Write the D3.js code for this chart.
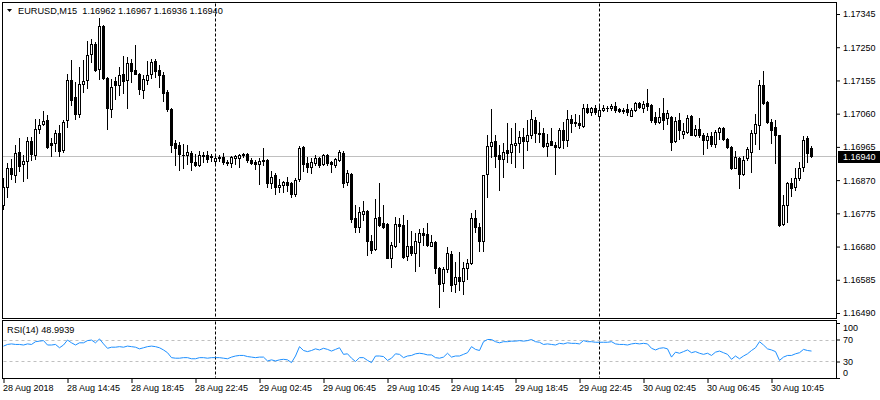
<!DOCTYPE html>
<html><head><meta charset="utf-8">
<script src="https://cdn.jsdelivr.net/npm/d3@7"></script>
<style>
html,body{margin:0;padding:0;background:#fff;}
svg{display:block;font-family:"Liberation Sans",Arial,sans-serif;}
text{white-space:pre;}
</style></head><body>
<svg id="chart" width="880" height="400"></svg>
<script>
// ---------- data ----------
const symbolTitle = "EURUSD,M15";
const lastQuote = ["1.16962", "1.16967", "1.16936", "1.16940"];
const rsiTitle = "RSI(14) 48.9939";
const currentPrice = 1.16940;

const openP = [1.16799,1.16850,1.16904,1.16885,1.16950,1.16916,1.16924,1.16982,1.16942,1.17016,
1.17031,1.17042,1.16976,1.16976,1.17004,1.16956,1.17042,1.17156,1.17108,1.17059,
1.17145,1.17156,1.17231,1.17260,1.17187,1.17311,1.17162,1.17073,1.17153,1.17142,
1.17174,1.17156,1.17204,1.17185,1.17174,1.17128,1.17156,1.17174,1.17210,1.17185,
1.17171,1.17122,1.17073,1.16976,1.16971,1.16942,1.16942,1.16947,1.16921,1.16913,
1.16939,1.16942,1.16939,1.16924,1.16935,1.16936,1.16921,1.16919,1.16933,1.16933,
1.16941,1.16945,1.16927,1.16921,1.16916,1.16927,1.16927,1.16862,1.16885,1.16850,
1.16856,1.16865,1.16862,1.16830,1.16873,1.16965,1.16919,1.16907,1.16919,1.16933,
1.16916,1.16942,1.16921,1.16913,1.16927,1.16947,1.16865,1.16887,1.16762,1.16736,
1.16773,1.16782,1.16696,1.16673,1.16764,1.16747,1.16744,1.16647,1.16681,1.16744,
1.16741,1.16653,1.16681,1.16661,1.16693,1.16719,1.16716,1.16681,1.16693,1.16618,
1.16576,1.16615,1.16659,1.16573,1.16593,1.16581,1.16618,1.16633,1.16761,1.16736,
1.16696,1.16887,1.16967,1.16982,1.16942,1.16930,1.16956,1.16950,1.16970,1.16976,
1.16993,1.16982,1.16999,1.17042,1.17004,1.17004,1.16967,1.16982,1.16971,1.16965,
1.17013,1.16985,1.17045,1.17036,1.17033,1.17025,1.17076,1.17065,1.17076,1.17053,
1.17070,1.17076,1.17076,1.17082,1.17073,1.17070,1.17073,1.17053,1.17070,1.17090,
1.17076,1.17090,1.17085,1.17050,1.17036,1.17062,1.17047,1.17050,1.16982,1.17042,
1.17002,1.17007,1.17053,1.16999,1.17016,1.16999,1.16985,1.16996,1.16973,1.17007,
1.17019,1.16988,1.16965,1.16904,1.16933,1.16887,1.16933,1.16950,1.17004,1.17027,
1.17142,1.17093,1.17036,1.17022,1.16999,1.16744,1.16799,1.16862,1.16850,1.16876,
1.16907,1.16990,1.16962];

const highP = [1.16876,1.16918,1.16930,1.16971,1.16990,1.16942,1.16993,1.16993,1.17044,1.17044,
1.17067,1.17056,1.16990,1.17013,1.17028,1.17042,1.17174,1.17213,1.17150,1.17193,
1.17213,1.17268,1.17273,1.17265,1.17334,1.17314,1.17165,1.17159,1.17165,1.17193,
1.17225,1.17222,1.17216,1.17257,1.17177,1.17171,1.17210,1.17216,1.17216,1.17199,
1.17179,1.17128,1.17076,1.16985,1.16979,1.16973,1.16971,1.16953,1.16945,1.16953,
1.16950,1.16953,1.16945,1.16945,1.16942,1.16947,1.16927,1.16939,1.16942,1.16945,
1.16947,1.16947,1.16933,1.16927,1.16933,1.16962,1.16929,1.16896,1.16890,1.16873,
1.16867,1.16879,1.16865,1.16876,1.16967,1.16967,1.16936,1.16933,1.16942,1.16936,
1.16944,1.16945,1.16924,1.16933,1.16956,1.16953,1.16899,1.16890,1.16799,1.16793,
1.16810,1.16784,1.16713,1.16816,1.16862,1.16799,1.16746,1.16693,1.16764,1.16761,
1.16770,1.16756,1.16724,1.16719,1.16730,1.16733,1.16747,1.16713,1.16696,1.16621,
1.16621,1.16679,1.16667,1.16636,1.16664,1.16636,1.16644,1.16776,1.16784,1.16747,
1.16886,1.16999,1.17073,1.16999,1.16970,1.16976,1.17033,1.17019,1.17033,1.17010,
1.17019,1.17042,1.17070,1.17050,1.17036,1.17019,1.17002,1.17019,1.16979,1.17019,
1.17036,1.17070,1.17056,1.17059,1.17056,1.17088,1.17088,1.17079,1.17085,1.17085,
1.17085,1.17082,1.17088,1.17093,1.17076,1.17076,1.17088,1.17076,1.17093,1.17093,
1.17096,1.17130,1.17088,1.17065,1.17076,1.17105,1.17070,1.17053,1.17050,1.17062,
1.17033,1.17056,1.17056,1.17027,1.17047,1.17005,1.17005,1.17007,1.17013,1.17022,
1.17022,1.16990,1.16967,1.16953,1.16935,1.16939,1.16965,1.17013,1.17059,1.17156,
1.17182,1.17096,1.17045,1.17042,1.17000,1.16827,1.16865,1.16876,1.16904,1.16922,
1.16996,1.16996,1.16967];

const lowP = [1.16787,1.16822,1.16873,1.16864,1.16896,1.16867,1.16876,1.16927,1.16930,1.17004,
1.17028,1.16962,1.16939,1.16953,1.16939,1.16950,1.17022,1.17085,1.17044,1.17050,
1.17122,1.17133,1.17207,1.17182,1.17159,1.17159,1.17016,1.17050,1.17102,1.17114,
1.17119,1.17076,1.17150,1.17174,1.17117,1.17105,1.17145,1.17162,1.17165,1.17136,
1.17096,1.17067,1.16950,1.16913,1.16899,1.16904,1.16916,1.16899,1.16910,1.16910,
1.16921,1.16921,1.16924,1.16919,1.16924,1.16916,1.16913,1.16907,1.16916,1.16907,
1.16936,1.16921,1.16916,1.16902,1.16859,1.16913,1.16850,1.16847,1.16830,1.16836,
1.16836,1.16839,1.16822,1.16825,1.16867,1.16896,1.16893,1.16890,1.16913,1.16907,
1.16913,1.16913,1.16893,1.16907,1.16924,1.16850,1.16856,1.16750,1.16721,1.16721,
1.16756,1.16656,1.16661,1.16670,1.16739,1.16733,1.16647,1.16621,1.16678,1.16693,
1.16647,1.16641,1.16656,1.16610,1.16624,1.16684,1.16681,1.16681,1.16604,1.16507,
1.16553,1.16607,1.16553,1.16550,1.16556,1.16544,1.16587,1.16630,1.16721,1.16667,
1.16667,1.16822,1.16936,1.16907,1.16842,1.16879,1.16921,1.16919,1.16907,1.16950,
1.16904,1.16956,1.16990,1.16979,1.16979,1.16964,1.16939,1.16971,1.16887,1.16962,
1.16962,1.16967,1.17007,1.17025,1.17019,1.17022,1.17062,1.17056,1.17059,1.17047,
1.17067,1.17067,1.17070,1.17065,1.17065,1.17062,1.17056,1.17053,1.17067,1.17076,
1.17065,1.17070,1.17036,1.17030,1.17033,1.17016,1.17030,1.16956,1.16979,1.16988,
1.16990,1.17004,1.16999,1.16996,1.16993,1.16944,1.16962,1.16967,1.16965,1.16988,
1.16985,1.16962,1.16902,1.16904,1.16847,1.16884,1.16927,1.16893,1.16973,1.16959,
1.17088,1.17033,1.16976,1.16919,1.16739,1.16741,1.16750,1.16825,1.16842,1.16870,
1.16896,1.16921,1.16936];

const closeP = [1.16850,1.16904,1.16888,1.16947,1.16910,1.16924,1.16982,1.16945,1.17016,1.17028,
1.17039,1.16965,1.16971,1.17004,1.16953,1.17036,1.17156,1.17099,1.17059,1.17145,
1.17153,1.17228,1.17260,1.17185,1.17311,1.17162,1.17076,1.17136,1.17142,1.17171,
1.17153,1.17204,1.17182,1.17174,1.17130,1.17159,1.17171,1.17207,1.17182,1.17171,
1.17119,1.17073,1.16971,1.16962,1.16945,1.16941,1.16950,1.16921,1.16913,1.16942,
1.16942,1.16930,1.16936,1.16933,1.16933,1.16921,1.16919,1.16936,1.16939,1.16942,
1.16946,1.16927,1.16919,1.16916,1.16924,1.16924,1.16862,1.16879,1.16850,1.16856,
1.16865,1.16856,1.16830,1.16870,1.16962,1.16916,1.16907,1.16921,1.16933,1.16913,
1.16942,1.16919,1.16916,1.16930,1.16950,1.16862,1.16890,1.16759,1.16736,1.16779,
1.16782,1.16696,1.16670,1.16762,1.16741,1.16736,1.16647,1.16684,1.16744,1.16739,
1.16650,1.16681,1.16661,1.16696,1.16719,1.16713,1.16684,1.16693,1.16618,1.16573,
1.16615,1.16661,1.16570,1.16593,1.16581,1.16618,1.16633,1.16761,1.16736,1.16696,
1.16884,1.16967,1.16979,1.16939,1.16930,1.16950,1.16947,1.16973,1.16976,1.16993,
1.16982,1.16999,1.17045,1.17004,1.17002,1.16967,1.16976,1.16971,1.16965,1.17013,
1.16985,1.17045,1.17033,1.17033,1.17027,1.17076,1.17065,1.17076,1.17065,1.17070,
1.17076,1.17075,1.17082,1.17070,1.17067,1.17067,1.17065,1.17070,1.17090,1.17079,
1.17088,1.17082,1.17042,1.17036,1.17050,1.17042,1.17062,1.16979,1.17039,1.17013,
1.17010,1.17047,1.16999,1.17016,1.16999,1.16985,1.16996,1.16973,1.17007,1.17019,
1.16988,1.16965,1.16904,1.16936,1.16887,1.16927,1.16959,1.17004,1.17030,1.17142,
1.17090,1.17036,1.17013,1.16999,1.16741,1.16799,1.16862,1.16847,1.16876,1.16904,
1.16985,1.16947,1.16940];

const rsiValues = [58,61,62,61,61,60,62,61,66,67,68,60,60,61,55,60,69,64,60,64,
64,68,69,64,71,62,54,56,56,57,56,58,57,56,53,55,57,58,57,55,
51,46,37,36,36,37,37,35,35,37,37,36,37,37,37,36,35,38,40,41,
41,39,38,37,38,38,31,33,31,33,34,33,28,40,57,50,48,50,53,51,
54,52,49,52,55,43,44,36,30,37,37,32,28,40,40,39,32,36,44,43,
37,40,41,44,45,44,42,42,37,36,38,45,38,40,40,43,46,57,52,50,
66,70,70,66,64,66,66,67,67,68,67,68,70,66,65,61,62,61,60,63,
62,64,63,63,62,68,66,66,65,65,65,65,66,62,61,61,60,62,63,62,
63,62,54,51,54,55,53,38,47,45,48,51,46,48,45,43,45,41,47,49,
46,43,34,40,35,40,44,50,55,66,60,53,51,48,32,38,41,41,44,46,
52,50,48.99];

const priceTicks = [1.16490,1.16585,1.16680,1.16775,1.16870,1.16965,1.17060,1.17155,1.17250,1.17345];
const rsiTicks = [0,30,70,100];
const rsiLevels = [30,70];
const timeLabels = ["28 Aug 2018","28 Aug 14:45","28 Aug 18:45","28 Aug 22:45","29 Aug 02:45",
  "29 Aug 06:45","29 Aug 10:45","29 Aug 14:45","29 Aug 18:45","29 Aug 22:45",
  "30 Aug 02:45","30 Aug 06:45","30 Aug 10:45"];
const timeLabelBars = [0,16,32,48,64,80,96,112,128,144,160,176,192];
const separatorBars = [53,149];

// ---------- layout ----------
const svg = d3.select("#chart");
const L = 2.5, R = 836.5, mainTop = 2.5, mainBot = 318.5, rsiTop = 320.5, rsiBot = 378.5;

const bars = d3.range(openP.length);
const x = d3.scaleLinear().domain([0, 202]).range([3, 811]);
const y = d3.scaleLinear().domain([1.16490, 1.17345]).range([313, 14]);
const yr = d3.scaleLinear().domain([0, 100]).range([378, 323]);
const px = i => Math.round(x(i)) + 0.5;
const py = v => Math.round(y(v));

// current price line (behind candles)
svg.append("line")
  .attr("x1", L).attr("x2", R)
  .attr("y1", py(currentPrice) + 0.5).attr("y2", py(currentPrice) + 0.5)
  .attr("stroke", "#c0c0c0").attr("stroke-width", 1);

// period separators
separatorBars.forEach(b => {
  [[mainTop + 1, mainBot - 1], [rsiTop + 1, rsiBot - 1]].forEach(([a, c]) => {
    svg.append("line").attr("x1", px(b)).attr("x2", px(b)).attr("y1", a).attr("y2", c)
      .attr("stroke", "#000").attr("stroke-width", 1).attr("stroke-dasharray", "3,2");
  });
});

// candles
const g = svg.append("g").attr("shape-rendering", "crispEdges");
bars.forEach(i => {
  const o = openP[i], h = highP[i], l = lowP[i], c = closeP[i];
  const cx = px(i);
  g.append("line").attr("x1", cx).attr("x2", cx)
    .attr("y1", py(h)).attr("y2", py(l) + 1)
    .attr("stroke", "#000").attr("stroke-width", 1);
  const top = py(Math.max(o, c)), bot = py(Math.min(o, c));
  if (bot - top < 1) {
    g.append("line").attr("x1", cx - 1.5).attr("x2", cx + 1.5)
      .attr("y1", top + 0.5).attr("y2", top + 0.5)
      .attr("stroke", "#000").attr("stroke-width", 1);
  } else {
    g.append("rect").attr("x", cx - 1).attr("y", top + 0.5)
      .attr("width", 2).attr("height", bot - top)
      .attr("fill", c >= o ? "#fff" : "#000")
      .attr("stroke", "#000").attr("stroke-width", 1);
  }
});

// panel frames
svg.append("rect").attr("x", L).attr("y", mainTop).attr("width", R - L).attr("height", mainBot - mainTop)
  .attr("fill", "none").attr("stroke", "#000").attr("stroke-width", 1);
svg.append("rect").attr("x", L).attr("y", rsiTop).attr("width", R - L).attr("height", rsiBot - rsiTop)
  .attr("fill", "none").attr("stroke", "#000").attr("stroke-width", 1);

// title
svg.append("path").attr("d", "M7,9 L12,9 L9.5,12 Z").attr("fill", "#000");
svg.append("text").attr("x", 18).attr("y", 14).attr("font-size", 9.2).attr("fill", "#000")
  .text(symbolTitle + "  " + lastQuote.join(" "));

// price axis
const pa = svg.append("g").attr("transform", `translate(${R - 0.5},0)`)
  .call(d3.axisRight(y).tickValues(priceTicks).tickSize(4).tickPadding(3)
    .tickFormat(d3.format(".5f")));
pa.select(".domain").remove();
pa.selectAll(".tick line").attr("stroke", "#000");
pa.selectAll(".tick text").attr("font-size", 9).attr("fill", "#000")
  .attr("font-family", '"Liberation Sans",Arial,sans-serif');

// current price box
svg.append("rect").attr("x", 838).attr("y", py(currentPrice) - 5).attr("width", 42).attr("height", 12)
  .attr("fill", "#000");
svg.append("text").attr("x", 843).attr("y", py(currentPrice) + 0.5).attr("dy", "0.35em")
  .attr("font-size", 9).attr("fill", "#fff").text(d3.format(".5f")(currentPrice));

// RSI levels
rsiLevels.forEach(v => {
  svg.append("line").attr("x1", L + 1).attr("x2", R - 1)
    .attr("y1", Math.round(yr(v)) + 0.5).attr("y2", Math.round(yr(v)) + 0.5)
    .attr("stroke", "#c0c0c0").attr("stroke-width", 1).attr("stroke-dasharray", "3,3");
});

// RSI line
svg.append("path").datum(rsiValues)
  .attr("d", d3.line().x((d, i) => px(i)).y(d => yr(d)))
  .attr("fill", "none").attr("stroke", "#1e90ff").attr("stroke-width", 1);

svg.append("text").attr("x", 7).attr("y", 333).attr("font-size", 9.2).attr("fill", "#000").text(rsiTitle);

// RSI axis
const ra = svg.append("g").attr("transform", `translate(${R - 0.5},0)`)
  .call(d3.axisRight(yr).tickValues(rsiTicks).tickSize(4).tickPadding(3).tickFormat(d3.format("d")));
ra.select(".domain").remove();
ra.selectAll(".tick line").attr("stroke", "#000");
ra.selectAll(".tick text").attr("font-size", 9).attr("fill", "#000")
  .attr("font-family", '"Liberation Sans",Arial,sans-serif')
  .attr("transform", d => d === 100 ? "translate(0,4.5)" : d === 0 ? "translate(0,-5.5)" : null);

// time axis
const ta = svg.append("g").attr("transform", `translate(0,${rsiBot - 0.5})`)
  .call(d3.axisBottom(d3.scaleLinear().domain([0, 202]).range([3.5, 811.5]))
    .tickValues(timeLabelBars).tickSize(5).tickPadding(2)
    .tickFormat((d, i) => timeLabels[i]));
ta.select(".domain").remove();
ta.selectAll(".tick line").attr("stroke", "#000");
ta.selectAll(".tick text").attr("font-size", 9).attr("fill", "#000")
  .attr("text-anchor", "start").attr("x", -1)
  .attr("font-family", '"Liberation Sans",Arial,sans-serif');
</script>
</body></html>
